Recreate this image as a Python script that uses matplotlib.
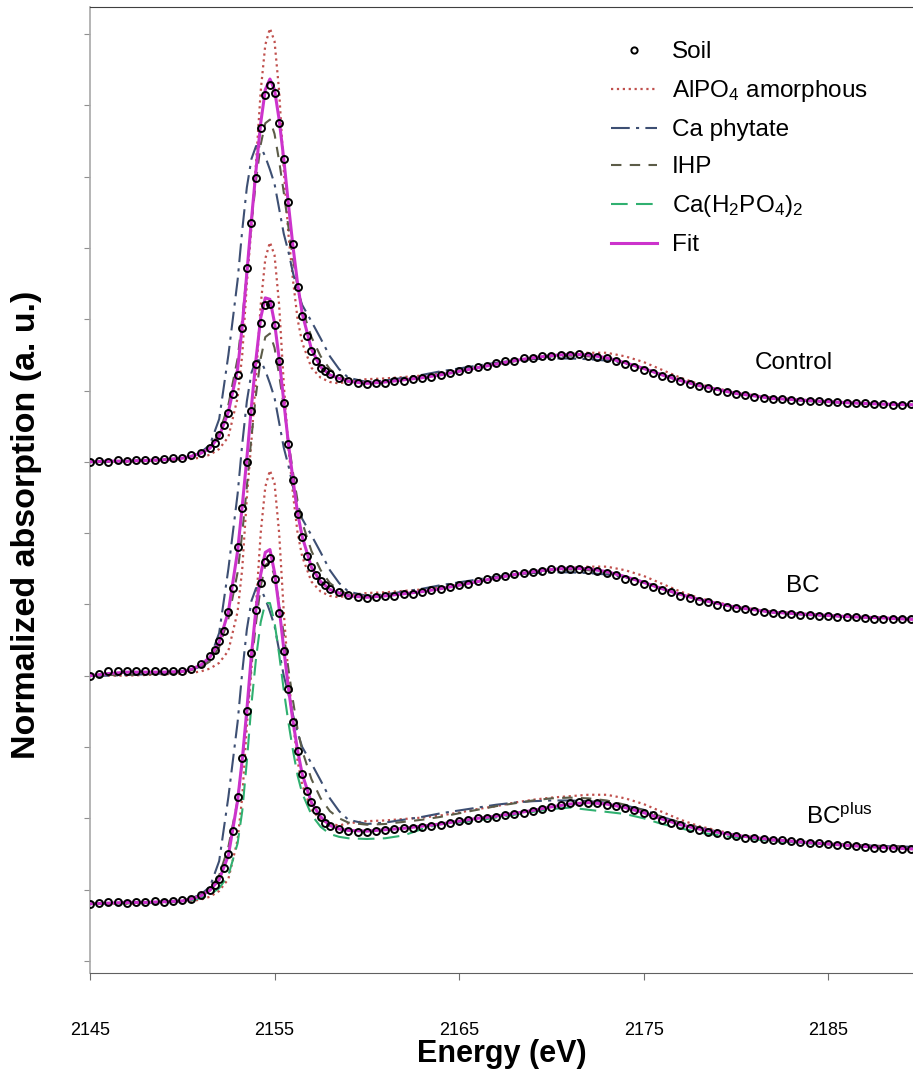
import numpy as np
import matplotlib
matplotlib.use("Agg")
from matplotlib import pyplot as plt

plt.rcParams['font.family'] = ['Liberation Sans', 'DejaVu Sans']
plt.rcParams['mathtext.default'] = 'regular'

# energy grid of the soil scans (eV)
E_soil = [2145.0, 2145.5, 2146.0, 2146.5, 2147.0, 2147.5, 2148.0, 2148.5, 2149.0, 2149.5,
          2150.0, 2150.5, 2151.0, 2151.5, 2151.75, 2152.0, 2152.25, 2152.5, 2152.75, 2153.0,
          2153.25, 2153.5, 2153.75, 2154.0, 2154.25, 2154.5, 2154.75, 2155.0, 2155.25, 2155.5,
          2155.75, 2156.0, 2156.25, 2156.5, 2156.75, 2157.0, 2157.25, 2157.5, 2157.75, 2158.0,
          2158.5, 2159.0, 2159.5, 2160.0, 2160.5, 2161.0, 2161.5, 2162.0, 2162.5, 2163.0,
          2163.5, 2164.0, 2164.5, 2165.0, 2165.5, 2166.0, 2166.5, 2167.0, 2167.5, 2168.0,
          2168.5, 2169.0, 2169.5, 2170.0, 2170.5, 2171.0, 2171.5, 2172.0, 2172.5, 2173.0,
          2173.5, 2174.0, 2174.5, 2175.0, 2175.5, 2176.0, 2176.5, 2177.0, 2177.5, 2178.0,
          2178.5, 2179.0, 2179.5, 2180.0, 2180.5, 2181.0, 2181.5, 2182.0, 2182.5, 2183.0,
          2183.5, 2184.0, 2184.5, 2185.0, 2185.5, 2186.0, 2186.5, 2187.0, 2187.5, 2188.0,
          2188.5, 2189.0, 2189.5]

soil_control = [0.00, 0.01, 0.00, 0.02, 0.01, 0.02, 0.03, 0.02, 0.04, 0.05,
                0.06, 0.09, 0.13, 0.19, 0.27, 0.38, 0.52, 0.68, 0.95, 1.22,
                1.88, 2.72, 3.35, 3.98, 4.68, 5.15, 5.29, 5.18, 4.75, 4.25,
                3.65, 3.05, 2.45, 2.05, 1.76, 1.55, 1.42, 1.32, 1.27, 1.23,
                1.18, 1.13, 1.10, 1.09, 1.10, 1.11, 1.13, 1.14, 1.16, 1.18,
                1.19, 1.22, 1.24, 1.27, 1.30, 1.33, 1.35, 1.38, 1.41, 1.42,
                1.45, 1.46, 1.48, 1.49, 1.50, 1.50, 1.51, 1.49, 1.47, 1.45,
                1.41, 1.37, 1.33, 1.29, 1.25, 1.21, 1.17, 1.13, 1.09, 1.06,
                1.03, 1.00, 0.98, 0.95, 0.94, 0.91, 0.90, 0.88, 0.88, 0.87,
                0.86, 0.86, 0.85, 0.84, 0.84, 0.83, 0.82, 0.82, 0.81, 0.81,
                0.80, 0.80, 0.81]

soil_bc = [0.00, 0.03, 0.06, 0.07, 0.06, 0.07, 0.06, 0.07, 0.06, 0.06,
           0.07, 0.10, 0.17, 0.27, 0.36, 0.48, 0.63, 0.90, 1.23, 1.80,
           2.35, 3.00, 3.72, 4.37, 4.95, 5.20, 5.21, 4.92, 4.42, 3.82,
           3.25, 2.75, 2.27, 1.95, 1.68, 1.52, 1.41, 1.33, 1.27, 1.22,
           1.17, 1.13, 1.11, 1.09, 1.10, 1.12, 1.12, 1.14, 1.15, 1.18,
           1.20, 1.21, 1.24, 1.27, 1.29, 1.33, 1.36, 1.38, 1.40, 1.43,
           1.44, 1.46, 1.47, 1.49, 1.49, 1.50, 1.50, 1.48, 1.47, 1.44,
           1.41, 1.36, 1.33, 1.28, 1.25, 1.20, 1.17, 1.12, 1.09, 1.05,
           1.03, 0.99, 0.97, 0.95, 0.93, 0.91, 0.89, 0.88, 0.87, 0.87,
           0.85, 0.85, 0.84, 0.84, 0.83, 0.82, 0.82, 0.81, 0.80, 0.80,
           0.79, 0.79, 0.80]

soil_bcplus = [0.00, 0.01, 0.02, 0.02, 0.01, 0.03, 0.02, 0.04, 0.03, 0.04,
               0.05, 0.07, 0.12, 0.20, 0.26, 0.35, 0.50, 0.70, 1.02, 1.50,
               2.05, 2.70, 3.52, 4.12, 4.50, 4.80, 4.85, 4.55, 4.08, 3.55,
               3.02, 2.55, 2.15, 1.82, 1.58, 1.43, 1.31, 1.22, 1.14, 1.09,
               1.05, 1.02, 1.01, 1.01, 1.02, 1.03, 1.05, 1.06, 1.07, 1.08,
               1.09, 1.11, 1.13, 1.16, 1.18, 1.20, 1.21, 1.22, 1.24, 1.26,
               1.28, 1.30, 1.33, 1.36, 1.39, 1.41, 1.43, 1.42, 1.41, 1.39,
               1.37, 1.34, 1.32, 1.28, 1.24, 1.18, 1.14, 1.10, 1.07, 1.04,
               1.01, 0.99, 0.97, 0.95, 0.93, 0.92, 0.91, 0.90, 0.89, 0.88,
               0.87, 0.86, 0.85, 0.84, 0.83, 0.82, 0.81, 0.80, 0.79, 0.78,
               0.78, 0.77, 0.77]

# energy grid of the reference standards and fits (eV)
E_ref = [2145, 2146, 2147, 2148, 2149, 2150, 2150.5, 2151, 2151.5, 2152,
         2152.5, 2153, 2153.25, 2153.5, 2153.75, 2154, 2154.25, 2154.5, 2154.75, 2155,
         2155.25, 2155.5, 2155.75, 2156, 2156.25, 2156.5, 2157, 2157.5, 2158, 2158.5,
         2159, 2160, 2161, 2162, 2163, 2164, 2165, 2166, 2167, 2168,
         2169, 2170, 2171, 2172, 2173, 2174, 2175, 2176, 2177, 2178,
         2180, 2182, 2184, 2186, 2188, 2189.6]

fit_control = [0.00, 0.01, 0.01, 0.02, 0.03, 0.05, 0.08, 0.12, 0.19, 0.36,
               0.70, 1.30, 1.90, 2.65, 3.40, 4.10, 4.75, 5.22, 5.37, 5.22,
               4.80, 4.25, 3.62, 3.02, 2.50, 2.08, 1.58, 1.33, 1.22, 1.17,
               1.13, 1.10, 1.12, 1.15, 1.18, 1.22, 1.27, 1.32, 1.37, 1.42,
               1.46, 1.49, 1.51, 1.50, 1.46, 1.39, 1.31, 1.22, 1.14, 1.07,
               0.96, 0.89, 0.86, 0.83, 0.81, 0.80]

fit_bc = [0.00, 0.03, 0.05, 0.05, 0.05, 0.06, 0.09, 0.15, 0.26, 0.47,
          0.90, 1.75, 2.38, 3.05, 3.78, 4.45, 5.02, 5.30, 5.28, 4.95,
          4.45, 3.85, 3.26, 2.75, 2.28, 1.95, 1.52, 1.32, 1.21, 1.16,
          1.12, 1.10, 1.12, 1.15, 1.18, 1.22, 1.27, 1.32, 1.37, 1.42,
          1.46, 1.49, 1.51, 1.50, 1.46, 1.39, 1.31, 1.22, 1.14, 1.07,
          0.96, 0.89, 0.86, 0.83, 0.81, 0.79]

fit_bcplus = [0.00, 0.01, 0.02, 0.02, 0.03, 0.04, 0.07, 0.11, 0.19, 0.34,
              0.68, 1.45, 2.02, 2.72, 3.50, 4.15, 4.62, 4.93, 4.97, 4.65,
              4.15, 3.58, 3.03, 2.56, 2.15, 1.82, 1.42, 1.22, 1.10, 1.05,
              1.03, 1.02, 1.04, 1.06, 1.09, 1.12, 1.16, 1.20, 1.23, 1.27,
              1.31, 1.36, 1.40, 1.42, 1.40, 1.35, 1.28, 1.19, 1.11, 1.05,
              0.96, 0.90, 0.86, 0.82, 0.79, 0.77]

alpo4 = [0.00, 0.00, 0.00, 0.01, 0.02, 0.03, 0.04, 0.06, 0.10, 0.18,
         0.35, 0.90, 1.50, 2.50, 3.30, 4.20, 5.20, 5.85, 6.08, 5.90,
         5.20, 4.10, 3.20, 2.55, 2.00, 1.67, 1.32, 1.18, 1.12, 1.10,
         1.13, 1.16, 1.17, 1.19, 1.21, 1.24, 1.28, 1.33, 1.37, 1.42,
         1.46, 1.49, 1.51, 1.53, 1.53, 1.48, 1.40, 1.29, 1.18, 1.09,
         0.97, 0.90, 0.86, 0.83, 0.81, 0.80]

ca_phytate = [0.00, 0.00, 0.01, 0.02, 0.03, 0.05, 0.08, 0.13, 0.24, 0.60,
              1.50, 2.55, 3.25, 3.85, 4.25, 4.43, 4.42, 4.28, 4.10, 3.90,
              3.55, 3.20, 2.95, 2.65, 2.40, 2.20, 1.97, 1.73, 1.48, 1.30,
              1.18, 1.12, 1.14, 1.18, 1.22, 1.27, 1.31, 1.35, 1.39, 1.42,
              1.44, 1.45, 1.45, 1.44, 1.42, 1.38, 1.32, 1.22, 1.14, 1.07,
              0.96, 0.89, 0.85, 0.83, 0.81, 0.80]

ihp = [0.00, 0.01, 0.01, 0.02, 0.03, 0.05, 0.08, 0.12, 0.20, 0.40,
       0.80, 1.45, 2.00, 2.65, 3.35, 3.95, 4.45, 4.75, 4.80, 4.60,
       4.22, 3.78, 3.30, 2.85, 2.45, 2.15, 1.75, 1.48, 1.30, 1.20,
       1.14, 1.11, 1.12, 1.15, 1.18, 1.22, 1.27, 1.32, 1.37, 1.41,
       1.45, 1.48, 1.49, 1.48, 1.45, 1.39, 1.31, 1.22, 1.14, 1.07,
       0.96, 0.89, 0.86, 0.83, 0.81, 0.80]

ca_h2po4 = [0.00, 0.00, 0.01, 0.01, 0.02, 0.03, 0.05, 0.08, 0.13, 0.22,
            0.40, 0.85, 1.30, 2.00, 2.80, 3.45, 3.95, 4.22, 4.22, 3.95,
            3.50, 3.00, 2.55, 2.15, 1.80, 1.55, 1.25, 1.08, 0.98, 0.94,
            0.92, 0.91, 0.92, 0.96, 1.05, 1.12, 1.14, 1.17, 1.21, 1.25,
            1.29, 1.33, 1.35, 1.32, 1.29, 1.26, 1.20, 1.12, 1.06, 1.00,
            0.93, 0.88, 0.85, 0.82, 0.79, 0.77]

samples = ['Control', 'BC', 'BC$^{plus}$']
offsets = [7.0, 4.0, 0.8]
soils = [soil_control, soil_bc, soil_bcplus]
fits = [fit_control, fit_bc, fit_bcplus]
label_pos = [(2181.0, 1.38), (2182.7, 1.26), (2183.8, 1.23)]

c_alpo4 = '#c0504d'
c_phyt = '#3d4f73'
c_ihp = '#5c5c48'
c_cah2 = '#30b070'
c_fit = '#cc33cc'

fig = plt.figure(figsize=(9.13, 10.86), dpi=100)
ax = fig.add_axes([90/913, 113/1086, 823/913, 966/1086])

for i in range(3):
    off = offsets[i]
    ax.plot(E_ref, np.array(alpo4) + off, linestyle=':', color=c_alpo4, lw=1.6, zorder=2,
            label='AlPO$_4$ amorphous')
    ax.plot(E_ref, np.array(ca_phytate) + off, linestyle=(0, (9, 3, 1.5, 3)), color=c_phyt,
            lw=1.5, zorder=2, label='Ca phytate')
    ax.plot(E_ref, np.array(ihp) + off, linestyle=(0, (5, 4)), color=c_ihp, lw=1.5, zorder=2,
            label='IHP')
    if i == 2:
        ax.plot(E_ref, np.array(ca_h2po4) + off, linestyle=(0, (8, 4)), color=c_cah2, lw=1.5,
                zorder=2, label='Ca(H$_2$PO$_4$)$_2$')
    ax.plot(E_ref, np.array(fits[i]) + off, color=c_fit, lw=2.2, zorder=3, label='Fit')
    ax.plot(E_soil, np.array(soils[i]) + off, 'o', mfc='none', mec='black', ms=5, mew=1.4,
            zorder=4, label='Soil')
    ax.text(label_pos[i][0], label_pos[i][1] + off, samples[i], fontsize=17.5,
            ha='left', va='center')

# legend in the order of the original
h, l = ax.get_legend_handles_labels()
order = ['Soil', 'AlPO$_4$ amorphous', 'Ca phytate', 'IHP', 'Ca(H$_2$PO$_4$)$_2$', 'Fit']
handles = [h[len(l) - 1 - l[::-1].index(name)] for name in order]
leg = ax.legend(handles, order, loc='upper left', bbox_to_anchor=(611/913, 1 - 41/1086),
                bbox_transform=fig.transFigure, frameon=False, fontsize=17.5,
                borderpad=0, borderaxespad=0, handlelength=1.9, handletextpad=0.6,
                labelspacing=0.62, markerscale=0.9)

ax.set_xlim(2145, 2189.6)
ax.set_ylim(-0.17, 13.38)
ax.set_xticks([2145, 2155, 2165, 2175, 2185])
ax.set_yticks(range(0, 14))
ax.set_yticklabels([])
ax.tick_params(axis='x', direction='out', length=5, color='#707070', pad=30, labelsize=13)
ax.tick_params(axis='y', direction='out', length=4, color='#909090')
ax.spines['right'].set_visible(False)
ax.spines['left'].set_color('#a8a8a8')
ax.spines['left'].set_linewidth(1.2)
ax.spines['bottom'].set_color('#606060')
ax.spines['top'].set_color('#404040')

fig.text(502/913, 1 - 1054/1086, 'Energy (eV)', fontsize=22, fontweight='bold',
         ha='center', va='center')
fig.text(27/913, 1 - 525/1086, 'Normalized absorption (a. u.)', fontsize=24.5,
         fontweight='bold', rotation=90, ha='center', va='center')

fig.savefig('out.png', dpi=100)
